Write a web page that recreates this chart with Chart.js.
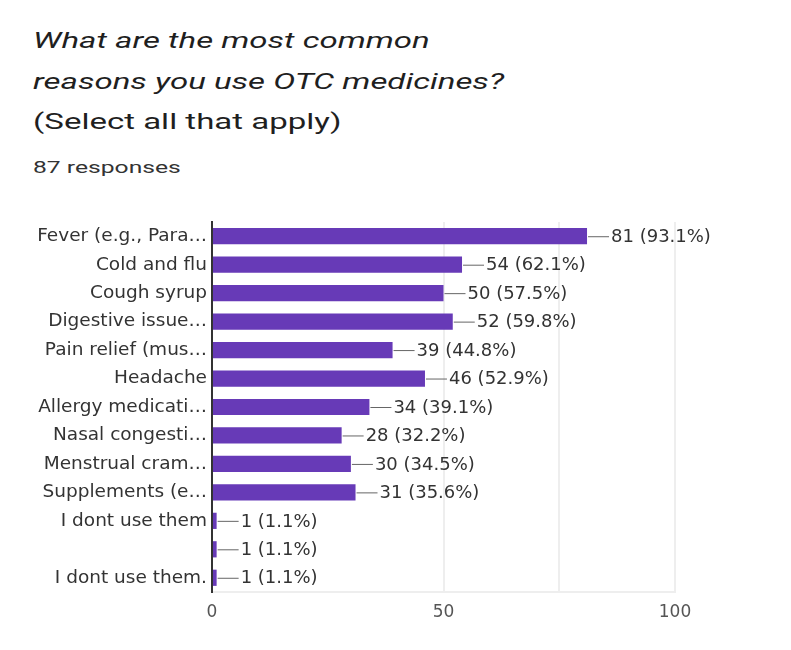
<!DOCTYPE html>
<html>
<head>
<meta charset="utf-8">
<script src="https://cdn.jsdelivr.net/npm/chart.js@4/dist/chart.umd.min.js"></script>
<style>
  html, body { margin: 0; padding: 0; background: #fff; }
  body { width: 791px; height: 650px; position: relative; overflow: hidden; font-family: Roboto, "Noto Sans", sans-serif; }
  #title { position: absolute; left: 33px; top: 21px; font-size: 22px; line-height: 40.5px; font-style: italic; color: #1f1f1f;
           transform: scaleX(1.5); transform-origin: 0 0; white-space: nowrap; }
  #title .plain { font-style: normal; }
  #count { position: absolute; left: 33px; top: 156px; font-size: 17px; line-height: 22px; color: #333;
           transform: scaleX(1.45); transform-origin: 0 0; white-space: nowrap; }
  #wrap { position: absolute; left: 0; top: 0; width: 791px; height: 650px; }
</style>
</head>
<body>
<div id="title">What are the most common<br>reasons you use OTC medicines?<br><span class="plain">(Select all that apply)</span></div>
<div id="count">87 responses</div>
<div id="wrap"><canvas id="chart" width="791" height="650"></canvas></div>
<script>
// Survey answers and how many respondents picked each one
const categories = [
  'Fever (e.g., Para\u2026',
  'Cold and flu',
  'Cough syrup',
  'Digestive issue\u2026',
  'Pain relief (mus\u2026',
  'Headache',
  'Allergy medicati\u2026',
  'Nasal congesti\u2026',
  'Menstrual cram\u2026',
  'Supplements (e\u2026',
  'I dont use them',
  '',
  'I dont use them.'
];
const counts = [81, 54, 50, 52, 39, 46, 34, 28, 30, 31, 1, 1, 1];
const totalResponses = 87;
const axisTicks = [0, 50, 100];

const BAR_COLOR = '#673ab7';
const TEXT_COLOR = '#333333';
const LABEL_FONT = '"DejaVu Sans", Verdana, sans-serif';

// Leader line plus "count (percent%)" to the right of every bar
const valueLabels = {
  id: 'valueLabels',
  afterDatasetsDraw(chart) {
    const ctx = chart.ctx;
    const meta = chart.getDatasetMeta(0);
    ctx.save();
    ctx.font = '18px ' + LABEL_FONT;
    ctx.textBaseline = 'middle';
    ctx.textAlign = 'left';
    meta.data.forEach((bar, i) => {
      const v = counts[i];
      const pct = (v / totalResponses * 100).toFixed(1);
      const x = bar.x, y = bar.y;
      ctx.strokeStyle = '#666';
      ctx.lineWidth = 1;
      ctx.beginPath();
      ctx.moveTo(x + 1, y + 0.5);
      ctx.lineTo(x + 22, y + 0.5);
      ctx.stroke();
      ctx.fillStyle = TEXT_COLOR;
      ctx.fillText(v + ' (' + pct + '%)', x + 24, y + 1);
    });
    ctx.restore();
  }
};

new Chart(document.getElementById('chart'), {
  type: 'bar',
  data: {
    labels: categories,
    datasets: [{
      data: counts,
      backgroundColor: BAR_COLOR,
      borderWidth: 0,
      categoryPercentage: 1,
      barPercentage: 0.57
    }]
  },
  options: {
    indexAxis: 'y',
    responsive: false,
    animation: false,
    devicePixelRatio: 1,
    layout: { padding: { top: 222, right: 116, bottom: 10, left: 0 } },
    plugins: {
      legend: { display: false },
      tooltip: { enabled: false }
    },
    scales: {
      x: {
        min: 0,
        max: 100,
        afterFit(scale) { scale.height = 48; },
        ticks: {
          stepSize: 25,
          autoSkip: false,
          maxRotation: 0,
          padding: 10,
          color: '#555',
          font: { family: LABEL_FONT, size: 17 },
          callback: (v) => axisTicks.includes(v) ? String(v) : ''
        },
        grid: {
          drawTicks: false,
          lineWidth: 2,
          color: (c) => (c.tick && c.tick.value >= 50) ? '#eeeeee' : 'rgba(0,0,0,0)'
        },
        border: { display: true, color: '#eeeeee', width: 2 }
      },
      y: {
        afterFit(scale) { scale.width = 212; },
        ticks: {
          padding: 5,
          autoSkip: false,
          color: TEXT_COLOR,
          font: { family: LABEL_FONT, size: 18.5 }
        },
        grid: { display: false, drawTicks: false },
        border: { display: true, color: '#333333', width: 2 }
      }
    }
  },
  plugins: [valueLabels]
});
</script>
</body>
</html>
